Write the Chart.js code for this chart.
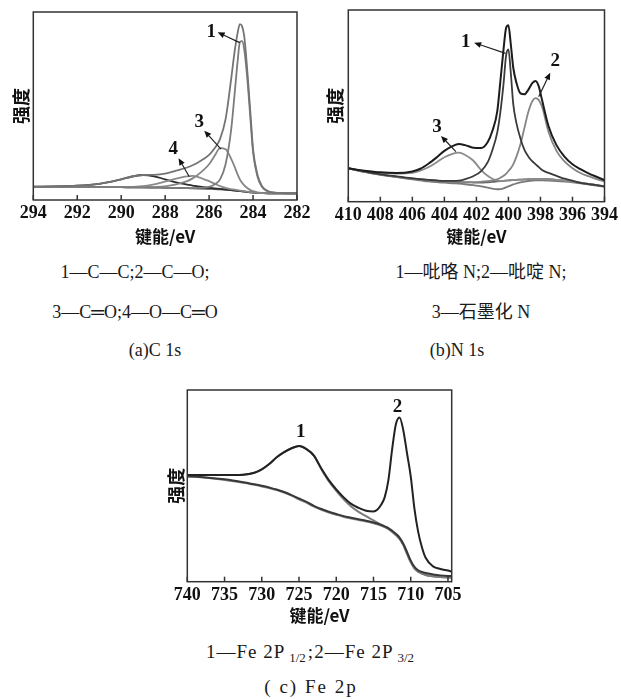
<!DOCTYPE html>
<html><head><meta charset="utf-8">
<script src="https://cdn.jsdelivr.net/npm/chart.js@4.4.0/dist/chart.umd.min.js"></script>
<style>
html,body{margin:0;padding:0;background:#fff;}
#wrap{position:relative;width:621px;height:699px;overflow:hidden;background:#fff;}
canvas{position:absolute;}
.cap{position:absolute;transform:translateX(-50%);white-space:nowrap;font-family:"Liberation Serif","Noto Sans CJK SC",serif;font-size:18px;line-height:20px;color:#1a1a1a;}
.wide{font-size:19px;letter-spacing:1px;}
.sub{font-size:13px;vertical-align:-4px;margin-left:4px;margin-right:2px;letter-spacing:0;}
</style></head><body>
<div id="wrap">
<canvas id="cA" width="315" height="250" style="left:0;top:0;width:315px;height:250px"></canvas>
<canvas id="cB" width="306" height="250" style="left:315px;top:0;width:306px;height:250px"></canvas>
<canvas id="cC" width="320" height="260" style="left:150px;top:370px;width:320px;height:260px"></canvas>
<div class="cap" style="left:135px;top:262px">1—C—C;2—C—O;</div>
<div class="cap" style="left:135px;top:302px">3—C═O;4—O—C═O</div>
<div class="cap" style="left:155px;top:340px">(a)C 1s</div>
<div class="cap" style="left:481px;top:262px">1—吡咯 N;2—吡啶 N;</div>
<div class="cap" style="left:481px;top:302px">3—石墨化 N</div>
<div class="cap" style="left:457px;top:340px">(b)N 1s</div>
<div class="cap wide" style="left:311px;top:642px">1—Fe 2P<span class="sub">1/2</span>;2—Fe 2P<span class="sub">3/2</span></div>
<div class="cap wide" style="left:311px;top:677px;letter-spacing:2px">( c) Fe 2p</div>
</div>
<script>
// ---------- (a) C 1s ----------
const energyA = [294, 293, 292, 291, 290.5, 290, 289.5, 289, 288.5, 288, 287.5, 287, 286.75, 286.5, 286, 285.75, 285.5, 285.25, 285, 284.85, 284.7, 284.6, 284.5, 284.4, 284.25, 284.1, 284, 283.8, 283.6, 283.3, 283, 282.5, 282];
const envelopeA = [7.1, 7.2, 7.6, 8.6, 9.6, 11.0, 12.5, 13.3, 13.4, 14.0, 15.6, 17.3, 18.5, 20.0, 24.0, 27.5, 32.5, 43, 64, 78, 89, 93.6, 92.5, 87, 67, 43, 27, 13.5, 7.5, 4.6, 3.9, 3.6, 3.5];
const cc1A = [7.0, 7.0, 6.9, 6.9, 6.8, 6.8, 6.7, 6.7, 6.6, 6.5, 6.4, 6.3, 6.3, 6.4, 7.0, 8.2, 11, 19, 37, 55, 74, 84, 84.5, 80, 63, 40, 25.5, 12.5, 7, 4.4, 3.8, 3.6, 3.5];
const cc3A = [7.0, 7.0, 6.9, 6.9, 6.8, 6.8, 6.7, 6.7, 6.9, 7.3, 8.3, 10.0, 11.5, 13.5, 19, 23.5, 27.6, 27, 22, 18, 13.5, 11, 9.2, 7.8, 6.3, 5.2, 4.7, 4.1, 3.8, 3.6, 3.6, 3.5, 3.5];
const cc4A = [7.0, 7.0, 6.9, 6.9, 6.8, 6.8, 7.0, 7.4, 8.3, 9.8, 11.4, 12.6, 12.8, 12.2, 10.0, 8.7, 7.4, 6.5, 5.8, 5.5, 5.2, 5.0, 4.8, 4.6, 4.4, 4.2, 4.0, 3.8, 3.7, 3.6, 3.6, 3.5, 3.5];
const darkA = [7.1, 7.2, 7.6, 8.6, 9.6, 11.0, 12.5, 13.3, 12.6, 11.0, 9.4, 8.2, 7.7, 7.2, 6.5, 6.2, 5.9, 5.6, 5.3, 5.1, 4.9, 4.8, 4.6, 4.5, 4.3, 4.1, 4.0, 3.8, 3.7, 3.6, 3.6, 3.5, 3.5];
const baseA = [7.0, 7.0, 6.9, 6.9, 6.8, 6.8, 6.7, 6.7, 6.6, 6.5, 6.4, 6.3, 6.2, 6.1, 5.9, 5.8, 5.6, 5.4, 5.2, 5.0, 4.9, 4.8, 4.6, 4.5, 4.3, 4.1, 4.0, 3.8, 3.7, 3.6, 3.6, 3.5, 3.5];
const ticksA = [294, 292, 290, 288, 286, 284, 282];

// ---------- (b) N 1s ----------
const energyB = [410, 409, 408, 407, 406, 405.5, 405, 404.5, 404, 403.5, 403.1, 402.7, 402.2, 401.7, 401.3, 401, 400.7, 400.5, 400.3, 400.15, 400, 399.85, 399.7, 399.5, 399.25, 399, 398.75, 398.5, 398.3, 398.1, 397.9, 397.5, 397, 396.5, 396, 395.5, 395, 394.5, 394];
const envelopeB = [17.4, 16.2, 15.3, 15.0, 15.8, 17.2, 19.8, 23, 26.5, 29, 30.1, 29.5, 28.2, 28, 31, 37, 47, 63, 80, 90.5, 92, 82, 70, 62, 56.5, 56, 58.5, 62, 63, 60, 53, 39.5, 29.5, 23.5, 19.5, 17, 14.8, 13, 11.3];
const pyrrolicB = [17.4, 15.8, 14.3, 13.2, 12.2, 11.8, 11.4, 11.1, 10.9, 10.9, 11.0, 11.8, 13.3, 16, 20.5, 27, 36, 47, 62, 76, 79.5, 67, 51, 41, 33, 27, 23.5, 21, 19.5, 18, 16.5, 15, 13.5, 12, 11, 9.8, 9.2, 8.6, 8];
const pyridinicB = [17.4, 15.7, 14.3, 13.1, 12.1, 11.7, 11.3, 11.0, 10.7, 10.5, 10.3, 10.2, 10.2, 10.4, 10.7, 11.1, 11.6, 12.5, 13.5, 14.5, 16, 17.5, 19.5, 23.5, 30, 38.5, 47, 52.5, 54, 53, 49.5, 36.5, 26.5, 21, 17.5, 15, 13.3, 11.8, 10.5];
const graphiticB = [17.4, 16.0, 15.0, 14.6, 15.0, 16.2, 18, 20.5, 23.2, 25, 25.6, 24.4, 21.5, 16.5, 13.5, 12, 11, 10.8, 10.9, 11.0, 11.1, 11.2, 11.3, 11.4, 11.5, 11.6, 11.7, 11.8, 11.8, 11.8, 11.8, 11.7, 11.4, 11.0, 10.5, 9.9, 9.3, 8.7, 8.0];
const base1B = [17.4, 15.5, 14.0, 12.8, 11.6, 11.1, 10.6, 10.2, 9.9, 9.6, 9.4, 9.1, 8.6, 8.0, 7.3, 6.8, 6.5, 6.6, 7.0, 7.5, 8.0, 8.5, 9.0, 9.5, 10.1, 10.5, 10.8, 11.0, 11.1, 11.1, 11.1, 11.0, 10.8, 10.5, 10.1, 9.6, 9.0, 8.4, 7.8];
const base2B = [17.4, 15.6, 14.2, 13.0, 12.0, 11.6, 11.2, 10.9, 10.6, 10.4, 10.2, 10.1, 10.0, 9.9, 10.1, 10.3, 10.6, 10.8, 10.9, 11.0, 11.1, 11.2, 11.3, 11.4, 11.5, 11.6, 11.7, 11.8, 11.8, 11.8, 11.8, 11.7, 11.4, 11.0, 10.5, 9.9, 9.3, 8.7, 8.0];
const ticksB = [410, 408, 406, 404, 402, 400, 398, 396, 394];

// ---------- (c) Fe 2p ----------
const energyC = [740, 737.5, 735, 732.5, 731, 730, 729, 728, 727, 726, 725, 724, 723, 722, 721, 720, 719, 718, 717, 716, 715, 714.5, 714, 713.5, 713, 712.5, 712, 711.5, 711, 710.5, 710, 709.5, 709, 708.5, 708, 707, 706, 705, 704.5];
const envelopeC = [55.6, 55.6, 55.6, 55.8, 56.8, 58.6, 61.4, 64.9, 67.6, 69.6, 70.8, 69.2, 65.8, 59, 53, 48.2, 44, 40.6, 38.5, 37, 36.6, 37.5, 40, 44, 53, 69, 82, 85.6, 79, 67, 55, 38, 26, 18, 12.5, 8, 6.6, 5.8, 5.3];
const fe12C = [55.6, 55.6, 55.6, 55.8, 56.8, 58.6, 61.4, 64.9, 67.6, 69.6, 70.8, 69.2, 65.8, 58.7, 52.4, 47.4, 43, 39.2, 36.4, 34.2, 32.0, 30.8, 29.6, 28.6, 27.6, 26.1, 24.4, 22.3, 19.2, 14.6, 10.2, 7.0, 5.2, 4.2, 3.5, 2.8, 2.4, 2.2, 2.1];
const bgDarkC = [55.0, 54.4, 53.4, 51.9, 50.8, 50.0, 49.1, 48.1, 46.8, 45.2, 43.4, 41.6, 39.6, 37.9, 36.5, 35.3, 34.2, 33.4, 32.6, 31.8, 30.9, 30.4, 29.7, 28.9, 28.0, 26.6, 25.0, 23.0, 19.8, 15.5, 11.0, 7.8, 6.0, 5.1, 4.5, 3.8, 3.3, 3.0, 2.9];
const bgGrayC = [55.0, 54.2, 53.1, 51.6, 50.5, 49.7, 48.8, 47.8, 46.5, 44.9, 43.0, 41.2, 39.2, 37.5, 36.1, 34.9, 33.8, 33.0, 32.2, 31.4, 30.5, 30.0, 29.3, 28.5, 27.5, 26.1, 24.4, 22.3, 19.2, 14.6, 10.2, 7.0, 5.2, 4.2, 3.5, 2.8, 2.4, 2.2, 2.1];
const ticksC = [740, 735, 730, 725, 720, 715, 710, 705];

// ---------- drawing ----------
const SERIF = '"Liberation Serif", "Times New Roman", serif';
const CJK = '"Noto Sans CJK SC", sans-serif';

function framePlugin(notes) {
  return {
    id: 'frame',
    afterDraw(chart) {
      const {ctx, chartArea: a, scales: {x, y}} = chart;
      ctx.save();
      ctx.strokeStyle = '#333';
      ctx.lineWidth = 1.5;
      ctx.strokeRect(a.left, a.top, a.right - a.left, a.bottom - a.top);
      x.ticks.forEach(t => {
        const px = x.getPixelForValue(t.value);
        ctx.beginPath(); ctx.moveTo(px, a.bottom); ctx.lineTo(px, a.bottom - 5); ctx.stroke();
      });
      ctx.fillStyle = '#111';
      ctx.font = 'bold 19px ' + SERIF;
      ctx.textAlign = 'center';
      ctx.textBaseline = 'middle';
      (notes.labels || []).forEach(l => {
        ctx.fillText(l.t, x.getPixelForValue(l.x), y.getPixelForValue(l.y));
      });
      ctx.strokeStyle = '#222';
      ctx.lineWidth = 1.2;
      (notes.arrows || []).forEach(ar => {
        const tx = x.getPixelForValue(ar.from[0]), ty = y.getPixelForValue(ar.from[1]);
        const hx = x.getPixelForValue(ar.to[0]), hy = y.getPixelForValue(ar.to[1]);
        const ang = Math.atan2(hy - ty, hx - tx);
        const L = 7, W = 3;
        const bx = hx - L * Math.cos(ang), by = hy - L * Math.sin(ang);
        ctx.beginPath(); ctx.moveTo(tx, ty); ctx.lineTo(bx, by); ctx.stroke();
        ctx.beginPath();
        ctx.moveTo(hx, hy);
        ctx.lineTo(bx + W * Math.sin(ang), by - W * Math.cos(ang));
        ctx.lineTo(bx - W * Math.sin(ang), by + W * Math.cos(ang));
        ctx.closePath(); ctx.fill();
      });
      ctx.restore();
    }
  };
}

function makeChart(id, cfg) {
  const datasets = cfg.series.map(s => ({
    data: cfg.energy.map((e, i) => ({x: e, y: s.values[i]})),
    borderColor: s.color,
    borderWidth: s.width || 1.8,
    pointRadius: 0,
    tension: 0.4,
    cubicInterpolationMode: 'monotone',
    fill: false
  }));
  return new Chart(document.getElementById(id), {
    type: 'line',
    data: {datasets},
    options: {
      responsive: false,
      animation: false,
      events: [],
      layout: {padding: cfg.padding},
      plugins: {legend: {display: false}, tooltip: {enabled: false}},
      scales: {
        x: {
          type: 'linear', reverse: true, min: cfg.xmin, max: cfg.xmax,
          afterFit: s => { s.height = cfg.xH; },
          afterBuildTicks: s => { s.ticks = cfg.ticks.map(v => ({value: v})); },
          grid: {display: false, drawTicks: false},
          border: {display: false},
          ticks: {padding: 3, color: '#111', autoSkip: false, maxRotation: 0,
                  font: {family: SERIF, size: 18, weight: 'bold'},
                  callback: v => String(v)},
          title: {display: true, text: '键能/eV', color: '#111',
                  font: {family: CJK, size: 17, weight: 'bold'},
                  padding: {top: 0, bottom: cfg.xTitlePad}}
        },
        y: {
          min: 0, max: 100,
          afterFit: s => { s.width = cfg.yW; },
          ticks: {display: false},
          grid: {display: false, drawTicks: false},
          border: {display: false},
          title: {display: true, text: '强度', color: '#111',
                  font: {family: CJK, size: 18, weight: 'bold'},
                  padding: {top: cfg.yTitlePad, bottom: 0}}
        }
      }
    },
    plugins: [framePlugin(cfg.notes)]
  });
}

makeChart('cA', {
  energy: energyA, xmin: 282, xmax: 294, ticks: ticksA,
  padding: {left: 0, top: 12, right: 18, bottom: 0},
  xH: 50, yW: 33.3, xTitlePad: 3, yTitlePad: 10,
  series: [
    {values: envelopeA, color: '#747474'},
    {values: cc1A, color: '#7c7c7c'},
    {values: cc3A, color: '#858585'},
    {values: cc4A, color: '#8a8a8a'},
    {values: darkA, color: '#2e2e2e'},
    {values: baseA, color: '#555555'}
  ],
  notes: {
    labels: [{t: '1', x: 285.9, y: 89.5}, {t: '3', x: 286.45, y: 41.3}, {t: '4', x: 287.63, y: 27.1}],
    arrows: [{from: [284.61, 83.7], to: [285.61, 89.2]},
             {from: [285.46, 27.1], to: [286.22, 36.9]},
             {from: [286.9, 12.4], to: [287.39, 22.2]}]
  }
});

makeChart('cB', {
  energy: energyB, xmin: 394, xmax: 410, ticks: ticksB,
  padding: {left: 0, top: 10, right: 15, bottom: 0},
  xH: 48.3, yW: 33.3, xTitlePad: 3, yTitlePad: 9,
  series: [
    {values: envelopeB, color: '#1c1c1c', width: 2},
    {values: pyrrolicB, color: '#3a3a3a'},
    {values: pyridinicB, color: '#858585'},
    {values: graphiticB, color: '#8c8c8c'},
    {values: base1B, color: '#7a7a7a'},
    {values: base2B, color: '#666666'}
  ],
  notes: {
    labels: [{t: '1', x: 402.66, y: 83.2}, {t: '2', x: 397.08, y: 73.4}, {t: '3', x: 404.46, y: 39.1}],
    arrows: [{from: [400.18, 77.4], to: [402.14, 82.9]},
             {from: [398.11, 54.8], to: [397.39, 67.3]},
             {from: [403.28, 26.1], to: [404.21, 34.3]}]
  }
});

makeChart('cC', {
  energy: energyC, xmin: 704.5, xmax: 740, ticks: ticksC,
  padding: {left: 0, top: 20, right: 18.3, bottom: 0},
  xH: 48.3, yW: 37.3, xTitlePad: 4, yTitlePad: 15,
  series: [
    {values: envelopeC, color: '#222222', width: 2},
    {values: bgDarkC, color: '#383838', width: 2},
    {values: fe12C, color: '#7a7a7a', width: 2},
    {values: bgGrayC, color: '#8a8a8a', width: 2}
  ],
  notes: {
    labels: [{t: '1', x: 724.76, y: 78.2}, {t: '2', x: 711.77, y: 91.3}],
    arrows: []
  }
});
</script>
</body></html>
